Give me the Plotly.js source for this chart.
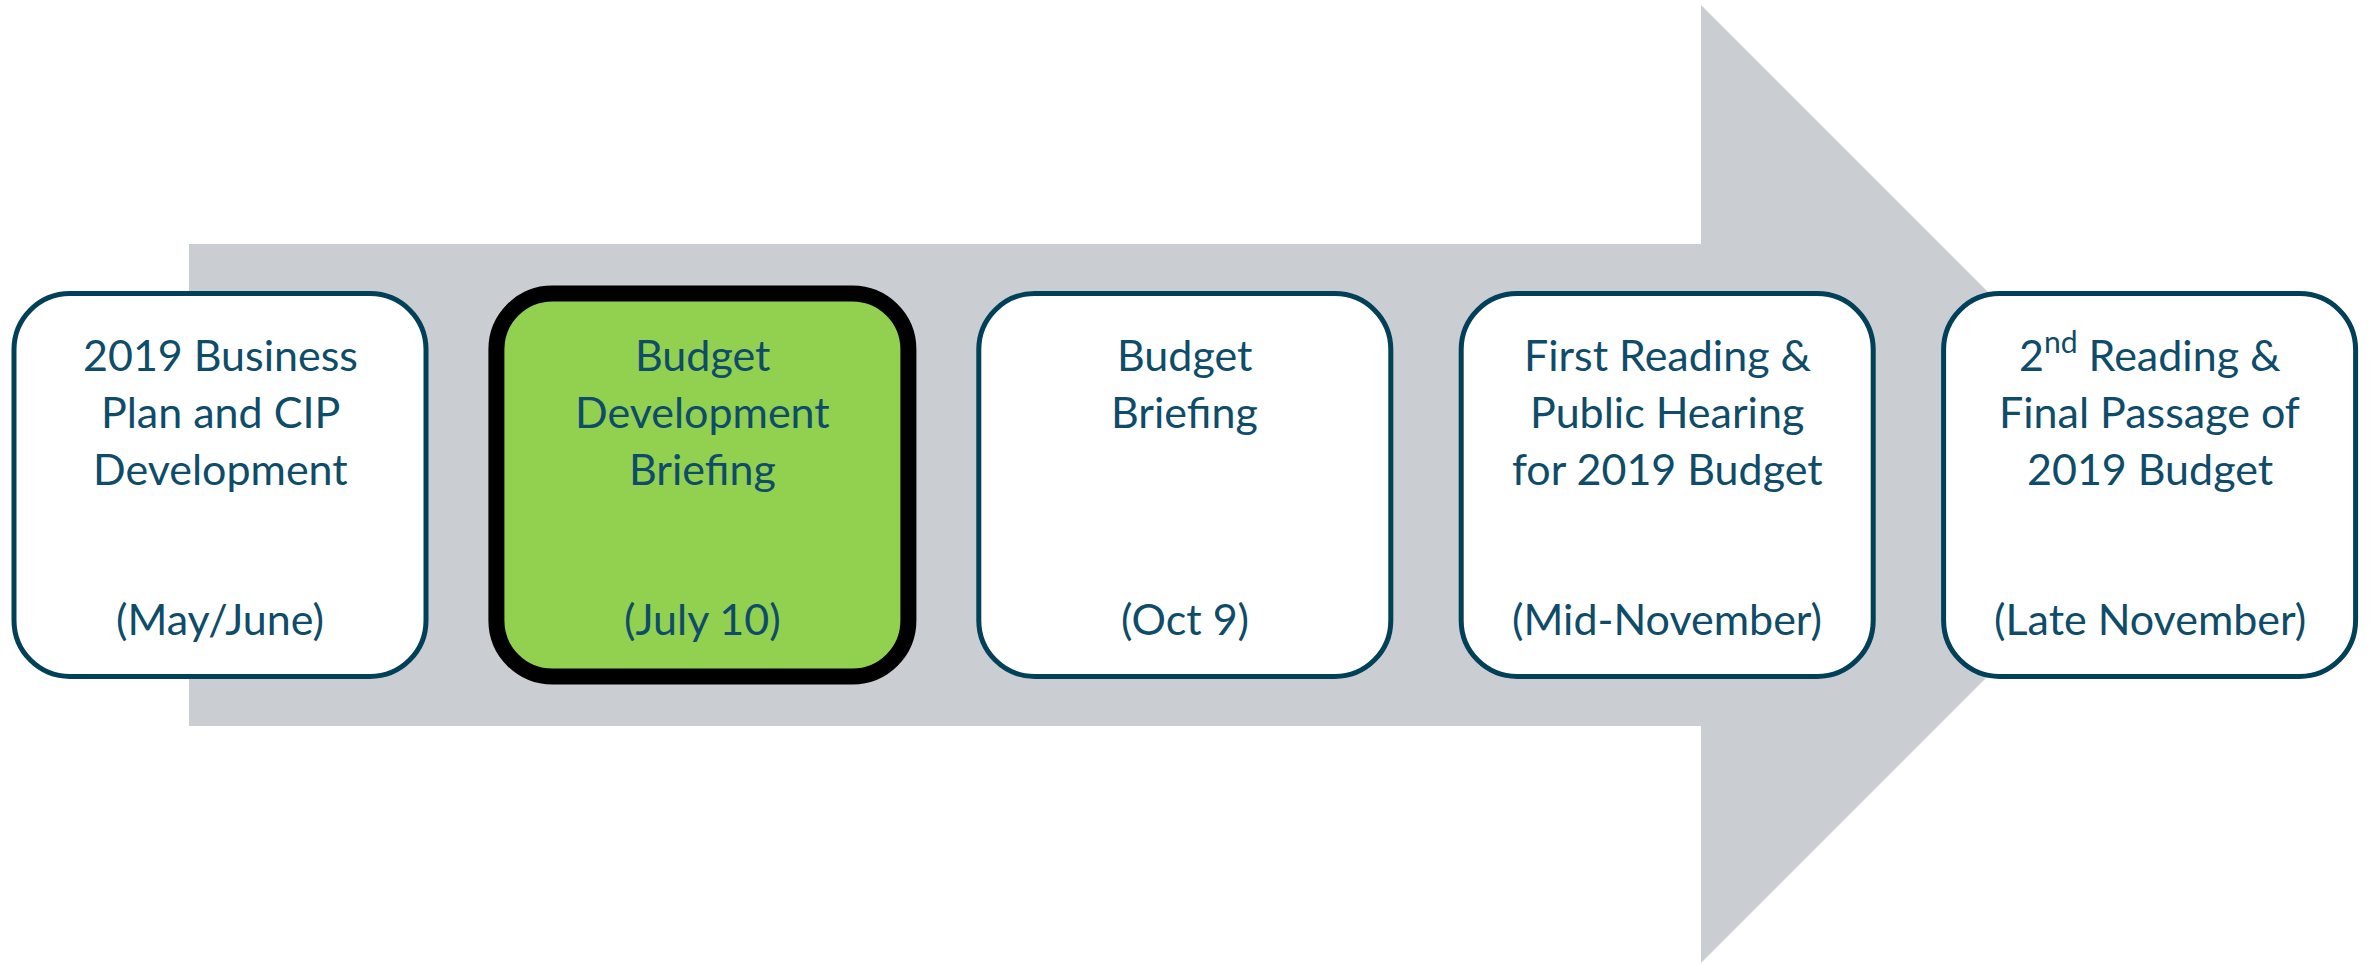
<!DOCTYPE html>
<html>
<head>
<meta charset="utf-8">
<script src="https://cdn.plot.ly/plotly-3.0.1.min.js"></script>
<style>html,body{margin:0;padding:0;background:#fff;}#chart{width:2374px;height:964px;}</style>
</head>
<body>
<div id="chart"></div>
<script>
// ---- data ----
const stepTitles = [
  "2019 Business<br>Plan and CIP<br>Development",
  "Budget<br>Development<br>Briefing",
  "Budget<br>Briefing",
  "First Reading &<br>Public Hearing<br>for 2019 Budget",
  "2<sup>nd</sup> Reading &<br>Final Passage of<br>2019 Budget"
];
const stepDates = ["(May/June)", "(July 10)", "(Oct 9)", "(Mid-November)", "(Late November)"];
const stepCurrent = [false, true, false, false, false];

// ---- layout constants ----
const W = 2374, H = 964;
const X0 = 220, STEP = 482.4, HALF_W = 206;
const BOX_TOP = 293.5, BOX_BOT = 676.5, RAD = 56;
const TEXT_COLOR = "#0E4C69", BORDER = "#004059", ARROW = "#CACDD2", GREEN = "#92D050";
const FONT = "Lato, 'Open Sans', sans-serif";
const FS = 43;
const FIRST_BASE = 372, LINE_GAP = 57, DATE_BASE = 636, DESC = 10;

function roundRect(x0, y0, x1, y1, r) {
  const k = r * 0.4477;
  return `M ${x0 + r} ${y0} L ${x1 - r} ${y0} C ${x1 - k} ${y0} ${x1} ${y0 + k} ${x1} ${y0 + r} ` +
         `L ${x1} ${y1 - r} C ${x1} ${y1 - k} ${x1 - k} ${y1} ${x1 - r} ${y1} ` +
         `L ${x0 + r} ${y1} C ${x0 + k} ${y1} ${x0} ${y1 - k} ${x0} ${y1 - r} ` +
         `L ${x0} ${y0 + r} C ${x0} ${y0 + k} ${x0 + k} ${y0} ${x0 + r} ${y0} Z`;
}

const shapes = [{
  type: "path",
  path: "M 189 244 L 1701 244 L 1701 5 L 2180 484 L 1701 963 L 1701 726 L 189 726 Z",
  fillcolor: ARROW, line: {width: 0}, layer: "below"
}];
const annotations = [];

stepTitles.forEach((t, i) => {
  const cx = X0 + i * STEP;
  const cur = stepCurrent[i];
  shapes.push({
    type: "path",
    path: roundRect(cx - HALF_W, BOX_TOP, cx + HALF_W, BOX_BOT, RAD),
    fillcolor: cur ? GREEN : "#FFFFFF",
    line: {color: cur ? "#000000" : BORDER, width: cur ? 16 : 5}
  });
  t.split("<br>").forEach((line, j) => {
    annotations.push({
      x: cx, y: FIRST_BASE + j * LINE_GAP + DESC, xref: "x", yref: "y", text: line, showarrow: false,
      xanchor: "center", yanchor: "bottom", align: "center",
      font: {family: FONT, size: FS, color: TEXT_COLOR}
    });
  });
  annotations.push({
    x: cx, y: DATE_BASE + DESC, xref: "x", yref: "y", text: stepDates[i], showarrow: false,
    xanchor: "center", yanchor: "bottom", align: "center",
    font: {family: FONT, size: FS, color: TEXT_COLOR}
  });
});

const layout = {
  width: W, height: H,
  margin: {l: 0, r: 0, t: 0, b: 0, pad: 0},
  paper_bgcolor: "#FFFFFF", plot_bgcolor: "#FFFFFF",
  xaxis: {range: [0, W], visible: false, showgrid: false, zeroline: false, fixedrange: true},
  yaxis: {range: [H, 0], visible: false, showgrid: false, zeroline: false, fixedrange: true},
  shapes: shapes, annotations: annotations, showlegend: false
};

Plotly.newPlot("chart", [], layout, {displayModeBar: false, staticPlot: true});
</script>
</body>
</html>
